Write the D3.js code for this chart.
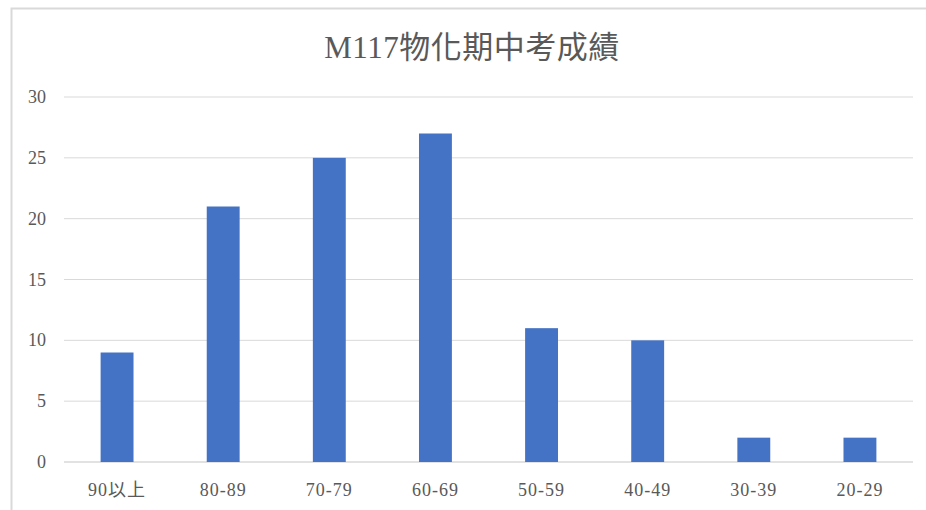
<!DOCTYPE html>
<html>
<head>
<meta charset="utf-8">
<script src="https://cdn.jsdelivr.net/npm/d3@7"></script>
<style>
body{margin:0;background:#fff;}
text{font-family:"Liberation Serif","Noto Sans CJK TC",serif;fill:#595959;}
</style>
</head>
<body>
<div class="graph"></div>
<script>
// score bands and how many students in each
var categories = ["90以上", "80-89", "70-79", "60-69", "50-59", "40-49", "30-39", "20-29"];
var counts = [9, 21, 25, 27, 11, 10, 2, 2];
var yTicks = [0, 5, 10, 15, 20, 25, 30];
var title = "M117物化期中考成績";

var width = 926, height = 510;
var svg = d3.select(".graph").append("svg")
	.attr("width", width)
	.attr("height", height);

// outer chart border
svg.append("rect")
	.attr("x", 11.5).attr("y", 8.5)
	.attr("width", 930).attr("height", 520)
	.attr("fill", "none")
	.attr("stroke", "#d9d9d9")
	.attr("stroke-width", 2);

var x = d3.scaleBand().domain(categories).range([64, 913]).paddingInner(0.69).paddingOuter(0.345);
var y = d3.scaleLinear().domain([0, 30]).range([462, 97]);

var grid = svg.append("g");
yTicks.forEach(function(t){
	grid.append("line")
		.attr("x1", 64).attr("x2", 913)
		.attr("y1", y(t)).attr("y2", y(t))
		.attr("stroke", "#d9d9d9")
		.attr("stroke-width", t == 0 ? 1.5 : 1);
	grid.append("text")
		.attr("x", 46).attr("y", y(t) + 6)
		.attr("text-anchor", "end")
		.attr("font-size", 18)
		.text(t);
});

svg.selectAll(".bar").data(counts).enter().append("rect")
	.attr("class", "bar")
	.attr("x", function(d, i){ return x(categories[i]); })
	.attr("width", x.bandwidth())
	.attr("y", function(d){ return y(d); })
	.attr("height", function(d){ return y(0) - y(d); })
	.attr("fill", "#4472c4");

svg.selectAll(".xlab").data(categories).enter().append("text")
	.attr("class", "xlab")
	.attr("x", function(d){ return x(d) + x.bandwidth() / 2; })
	.attr("y", 496)
	.attr("text-anchor", "middle")
	.attr("font-size", 18)
	.attr("letter-spacing", 1)
	.text(function(d){ return d; });

svg.append("text")
	.attr("x", 472).attr("y", 58)
	.attr("text-anchor", "middle")
	.attr("font-size", 31)
	.attr("letter-spacing", 0.5)
	.text(title);
</script>
</body>
</html>
